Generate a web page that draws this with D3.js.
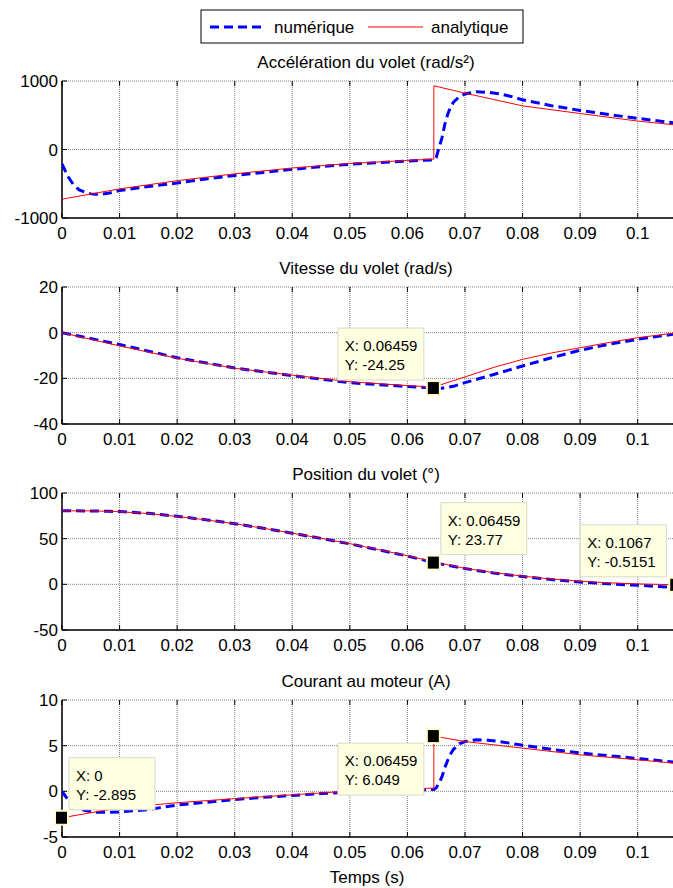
<!DOCTYPE html>
<html><head><meta charset="utf-8">
<script src="https://cdn.jsdelivr.net/npm/d3@7/dist/d3.min.js"></script>
<style>
body{margin:0;background:#fff;}
svg{display:block;font-family:"Liberation Sans",Arial,sans-serif;}
</style></head><body>
<svg id="c" width="673" height="888"></svg>
<script>
// ---------- DATA ----------
const xTicks = [0,0.01,0.02,0.03,0.04,0.05,0.06,0.07,0.08,0.09,0.1];
const xTickLabels = ["0","0.01","0.02","0.03","0.04","0.05","0.06","0.07","0.08","0.09","0.1"];
const seriesNames = ["numérique","analytique"];
const panelTitles = ["Accélération du volet (rad/s²)","Vitesse du volet (rad/s)","Position du volet (°)","Courant au moteur (A)"];
const yDomains = [[-1000,1000],[-40,20],[-50,100],[-5,10]];
const yTicks = [[-1000,0,1000],[-40,-20,0,20],[-50,0,50,100],[-5,0,5,10]];
const xLabel = "Temps (s)";

// Accélération
const accNumT = [0,0.001,0.002,0.003,0.004,0.005,0.006,0.007,0.008,0.01,0.015,0.02,0.025,0.03,0.035,0.04,0.045,0.05,0.055,0.06,0.0646,0.065,0.0655,0.066,0.0665,0.067,0.0675,0.068,0.069,0.07,0.072,0.074,0.076,0.078,0.08,0.085,0.09,0.095,0.1,0.107];
const accNum  = [-210,-390,-516,-590,-625,-648,-655,-652,-640,-600,-540,-490,-430,-380,-335,-290,-250,-215,-190,-170,-150,-120,30,170,370,515,620,690,770,810,843,835,812,775,725,640,570,510,455,380];
const accAnaT = [0,0.01,0.02,0.03,0.04,0.05,0.06,0.06459,0.06459,0.07,0.08,0.09,0.1,0.107];
const accAna  = [-725,-575,-455,-355,-270,-205,-160,-140,930,823,637,525,415,355];

// Vitesse
const velNumT = [0,0.01,0.02,0.03,0.04,0.05,0.06,0.06459,0.066,0.068,0.07,0.075,0.08,0.085,0.09,0.095,0.1,0.107];
const velNum  = [0,-5.2,-11,-15.5,-18.8,-21.9,-23.6,-24.25,-24.3,-23.5,-21.9,-18.3,-14.6,-11,-7.7,-5.1,-2.9,-0.4];
const velAnaT = [0,0.01,0.02,0.03,0.04,0.05,0.06,0.06459,0.07,0.075,0.08,0.085,0.09,0.095,0.1,0.107];
const velAna  = [0,-5.8,-11.2,-15.6,-18.6,-21.5,-23.2,-23.8,-19.4,-15.2,-11.7,-8.9,-6.6,-4.3,-2.2,0];

// Position
const posT   = [0,0.005,0.008,0.01,0.015,0.02,0.025,0.03,0.035,0.04,0.045,0.05,0.055,0.06,0.06459,0.07,0.075,0.08,0.085,0.09,0.095,0.1,0.1067];
const posNum = [80.5,80.4,80,79.7,77.7,74.5,70.7,66.3,61.4,56,50.3,44.3,37.8,31,23.77,17.3,12.3,8.5,5.2,2.5,0.5,-1,-3.5];
const posAna = [80.5,80.4,80,79.5,77.5,74.3,70.6,66.3,61.4,56,50.4,44.5,38,31.3,24.5,17.5,12.8,9,5.8,3.4,1.6,0.5,-0.5151];

// Courant
const curNumT = [0,0.001,0.002,0.003,0.004,0.006,0.008,0.01,0.015,0.02,0.025,0.03,0.035,0.04,0.045,0.05,0.055,0.06,0.0646,0.065,0.0655,0.066,0.0665,0.067,0.0675,0.068,0.069,0.07,0.072,0.074,0.076,0.078,0.08,0.085,0.09,0.095,0.1,0.107];
const curNum  = [0,-0.9,-1.5,-1.9,-2.1,-2.3,-2.3,-2.25,-2.0,-1.5,-1.2,-0.9,-0.65,-0.45,-0.25,-0.08,0.05,0.15,0.2,0.4,0.9,1.6,2.6,3.4,4.1,4.6,5.2,5.45,5.65,5.6,5.45,5.25,5.05,4.6,4.2,3.9,3.6,3.15];
const curAnaT = [0,0.01,0.02,0.03,0.04,0.05,0.06,0.06459,0.06459,0.07,0.08,0.09,0.1,0.107];
const curAna  = [-2.895,-1.8,-1.25,-0.8,-0.38,0.02,0.28,0.35,6.049,5.45,4.73,4.0,3.45,3.05];

// Data tips
const tipPanel = [1,2,2,3,3];
const tipX     = [0.06459,0.06459,0.1067,0,0.06459];
const tipY     = [-24.25,23.77,-0.5151,-2.895,6.049];
const tipTextX = ["X: 0.06459","X: 0.06459","X: 0.1067","X: 0","X: 0.06459"];
const tipTextY = ["Y: -24.25","Y: 23.77","Y: -0.5151","Y: -2.895","Y: 6.049"];
const tipPlace = ["ul","ur","ul","ur","dl"];

// ---------- LAYOUT ----------
const svg = d3.select("#c");
const L = 62, R = 678;
const panelTops = [81,287,493,700];
const panelH = 137;
const x = d3.scaleLinear().domain([0,0.107]).range([L,R]);
const numSets = [[accNumT,accNum],[velNumT,velNum],[posT,posNum],[curNumT,curNum]];
const anaSets = [[accAnaT,accAna],[velAnaT,velAna],[posT,posAna],[curAnaT,curAna]];
const fs = 17;

svg.append("defs").append("clipPath").attr("id","clip")
  .append("rect").attr("x",L).attr("y",0).attr("width",R-L).attr("height",888);

const yScales = [];
panelTitles.forEach((title,i)=>{
  const top = panelTops[i], bot = top+panelH;
  const y = d3.scaleLinear().domain(yDomains[i]).range([bot,top]);
  yScales.push(y);
  const g = svg.append("g");
  // grid
  g.selectAll(".vg").data(xTicks).enter().append("line")
    .attr("x1",d=>x(d)).attr("x2",d=>x(d)).attr("y1",top).attr("y2",bot)
    .attr("stroke","#808080").attr("stroke-width",1).attr("stroke-dasharray","1,1");
  g.selectAll(".hg").data(yTicks[i]).enter().append("line")
    .attr("x1",L).attr("x2",R).attr("y1",d=>y(d)).attr("y2",d=>y(d))
    .attr("stroke","#808080").attr("stroke-width",1).attr("stroke-dasharray","1,1");
  // axes lines
  g.append("line").attr("x1",L).attr("x2",R).attr("y1",bot).attr("y2",bot).attr("stroke","#000").attr("stroke-width",1.5);
  g.append("line").attr("x1",L).attr("x2",L).attr("y1",top).attr("y2",bot).attr("stroke","#000").attr("stroke-width",1.5);
  // tick marks
  g.selectAll(".tb").data(xTicks).enter().append("line")
    .attr("x1",d=>x(d)).attr("x2",d=>x(d)).attr("y1",bot).attr("y2",bot-5).attr("stroke","#000");
  g.selectAll(".tt").data(xTicks).enter().append("line")
    .attr("x1",d=>x(d)).attr("x2",d=>x(d)).attr("y1",top).attr("y2",top+5).attr("stroke","#000");
  g.selectAll(".tl").data(yTicks[i]).enter().append("line")
    .attr("x1",L).attr("x2",L+5).attr("y1",d=>y(d)).attr("y2",d=>y(d)).attr("stroke","#000");
  // tick labels
  g.selectAll(".xl").data(xTicks).enter().append("text")
    .attr("x",d=>x(d)).attr("y",bot+21).attr("text-anchor","middle")
    .attr("font-size",fs).text((d,k)=>xTickLabels[k]);
  g.selectAll(".yl").data(yTicks[i]).enter().append("text")
    .attr("x",L-4).attr("y",d=>y(d)+6).attr("text-anchor","end")
    .attr("font-size",fs).text(d=>String(d));
  // title
  g.append("text").attr("x",366).attr("y",top-13).attr("text-anchor","middle")
    .attr("font-size",fs).text(title);
  // series
  const line = d3.line().x(d=>x(d[0])).y(d=>y(d[1]));
  const cg = g.append("g").attr("clip-path","url(#clip)");
  const nd = numSets[i][0].map((t,k)=>[t,numSets[i][1][k]]);
  const ad = anaSets[i][0].map((t,k)=>[t,anaSets[i][1][k]]);
  cg.append("path").datum(nd).attr("d",line).attr("fill","none")
    .attr("stroke","#0000ff").attr("stroke-width",3).attr("stroke-dasharray","9,5");
  cg.append("path").datum(ad).attr("d",line).attr("fill","none")
    .attr("stroke","#ff0000").attr("stroke-width",1);
});

// x label
svg.append("text").attr("x",367).attr("y",883).attr("text-anchor","middle")
  .attr("font-size",fs).text(xLabel);

// data tips
const tw = 86, th = 52;
tipPanel.forEach((p,k)=>{
  const mx = x(tipX[k]), my = yScales[p](tipY[k]);
  let bx, by;
  const pl = tipPlace[k];
  bx = pl[1]==="l" ? mx-10-tw : mx+7;
  by = pl[0]==="u" ? my-8-th : my+7;
  const g = svg.append("g");
  g.append("rect").attr("x",bx).attr("y",by).attr("width",tw).attr("height",th)
    .attr("fill","#ffffe1").attr("stroke","#d9d9c8").attr("stroke-width",1);
  g.append("text").attr("x",bx+7).attr("y",by+23).attr("font-size",15).text(tipTextX[k]);
  g.append("text").attr("x",bx+7).attr("y",by+42).attr("font-size",15).text(tipTextY[k]);
  g.append("rect").attr("x",mx-7).attr("y",my-7).attr("width",13).attr("height",14)
    .attr("fill","#000").attr("stroke","#ffffcc").attr("stroke-width",2);
});

// legend
const lg = svg.append("g");
lg.append("rect").attr("x",201).attr("y",10).attr("width",322).attr("height",33)
  .attr("fill","#fff").attr("stroke","#000").attr("stroke-width",1);
lg.append("line").attr("x1",210).attr("x2",263).attr("y1",27).attr("y2",27)
  .attr("stroke","#0000ff").attr("stroke-width",3).attr("stroke-dasharray","9,5");
lg.append("text").attr("x",274).attr("y",33).attr("font-size",fs).text(seriesNames[0]);
lg.append("line").attr("x1",368).attr("x2",423).attr("y1",27).attr("y2",27)
  .attr("stroke","#ff0000").attr("stroke-width",1);
lg.append("text").attr("x",431).attr("y",33).attr("font-size",fs).text(seriesNames[1]);
</script>
</body></html>
